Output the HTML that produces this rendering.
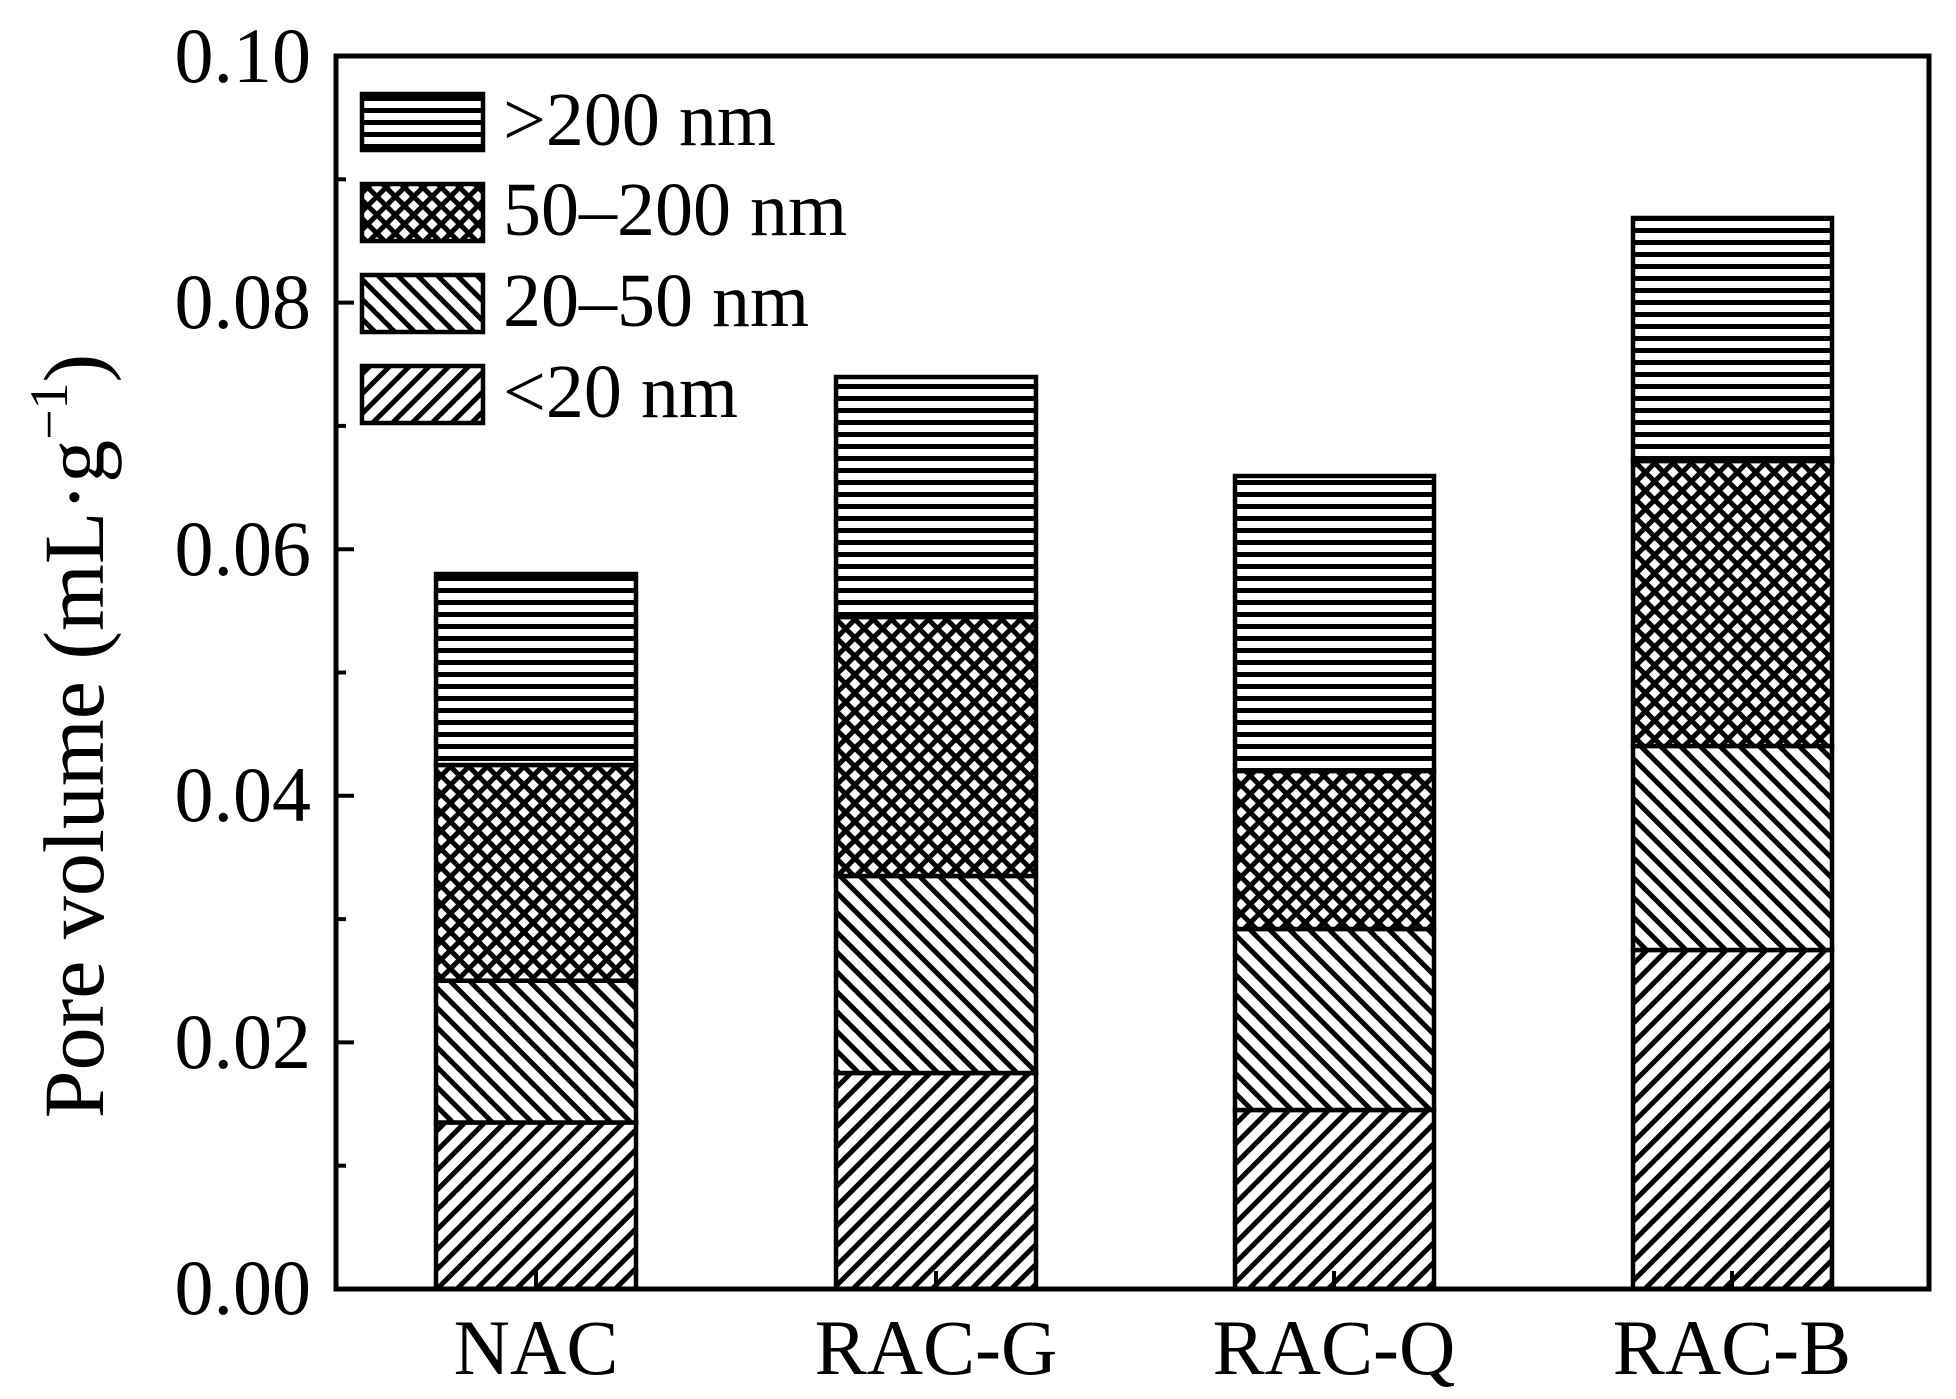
<!DOCTYPE html>
<html><head><meta charset="utf-8"><style>html,body{margin:0;padding:0;background:#fff}</style></head>
<body>
<svg width="1956" height="1394" viewBox="0 0 1956 1394" xmlns="http://www.w3.org/2000/svg" font-family="'Liberation Serif', serif">
<defs>
<pattern id="hz" patternUnits="userSpaceOnUse" width="20" height="12"><rect width="20" height="12" fill="#fff"/><rect y="0" width="20" height="5" fill="#000"/></pattern>
<pattern id="fw" patternUnits="userSpaceOnUse" width="14" height="14" patternTransform="rotate(45)"><rect width="14" height="14" fill="#fff"/><rect x="0" width="5" height="14" fill="#000"/></pattern>
<pattern id="bk" patternUnits="userSpaceOnUse" width="14" height="14" patternTransform="rotate(-45)"><rect width="14" height="14" fill="#fff"/><rect x="0" width="5" height="14" fill="#000"/></pattern>
<pattern id="cx" patternUnits="userSpaceOnUse" width="13" height="13" patternTransform="rotate(45)"><rect width="13" height="13" fill="#000"/><rect x="5" y="5" width="8" height="8" fill="#fff"/></pattern>
</defs>
<g stroke="#000" stroke-width="4.5">
<rect x="436" y="1122.5" width="200" height="166.5" fill="url(#fw)"/>
<rect x="436" y="980.7" width="200" height="141.8" fill="url(#bk)"/>
<rect x="436" y="765" width="200" height="215.7" fill="url(#cx)"/>
<rect x="436" y="574" width="200" height="191" fill="url(#hz)"/>
<rect x="836" y="1073" width="200" height="216" fill="url(#fw)"/>
<rect x="836" y="876" width="200" height="197" fill="url(#bk)"/>
<rect x="836" y="617" width="200" height="259" fill="url(#cx)"/>
<rect x="836" y="377" width="200" height="240" fill="url(#hz)"/>
<rect x="1235" y="1110" width="199" height="179" fill="url(#fw)"/>
<rect x="1235" y="929" width="199" height="181" fill="url(#bk)"/>
<rect x="1235" y="771" width="199" height="158" fill="url(#cx)"/>
<rect x="1235" y="476" width="199" height="295" fill="url(#hz)"/>
<rect x="1633" y="950" width="199" height="339" fill="url(#fw)"/>
<rect x="1633" y="746" width="199" height="204" fill="url(#bk)"/>
<rect x="1633" y="461" width="199" height="285" fill="url(#cx)"/>
<rect x="1633" y="218" width="199" height="243" fill="url(#hz)"/>
<rect x="362" y="94" width="121" height="56" fill="url(#hz)"/>
<rect x="362" y="184" width="121" height="57" fill="url(#cx)"/>
<rect x="362" y="275" width="121" height="57" fill="url(#bk)"/>
<rect x="362" y="366" width="121" height="57" fill="url(#fw)"/>
</g>
<g stroke="#000" stroke-width="5" fill="none">
<rect x="336" y="56" width="1593" height="1233"/>
</g>
<g stroke="#000" stroke-width="4">
<line x1="336" y1="1289" x2="354" y2="1289"/><line x1="336" y1="1042.4" x2="354" y2="1042.4"/><line x1="336" y1="795.8" x2="354" y2="795.8"/><line x1="336" y1="549.2" x2="354" y2="549.2"/><line x1="336" y1="302.6" x2="354" y2="302.6"/>
<line x1="336" y1="1165.7" x2="346" y2="1165.7"/><line x1="336" y1="919.1" x2="346" y2="919.1"/><line x1="336" y1="672.5" x2="346" y2="672.5"/><line x1="336" y1="425.9" x2="346" y2="425.9"/><line x1="336" y1="179.3" x2="346" y2="179.3"/>
<line x1="536" y1="1289" x2="536" y2="1271"/><line x1="936" y1="1289" x2="936" y2="1271"/><line x1="1334" y1="1289" x2="1334" y2="1271"/><line x1="1732" y1="1289" x2="1732" y2="1271"/>
</g>
<g font-size="78" text-anchor="end" fill="#000">
<text x="311" y="1314">0.00</text><text x="311" y="1068">0.02</text><text x="311" y="821">0.04</text><text x="311" y="575">0.06</text><text x="311" y="328">0.08</text><text x="311" y="82">0.10</text>
</g>
<g font-size="78" text-anchor="middle" fill="#000">
<text x="536" y="1374">NAC</text><text x="936" y="1374">RAC-G</text><text x="1334" y="1374">RAC-Q</text><text x="1732" y="1374">RAC-B</text>
</g>
<g font-size="76" fill="#000">
<text x="503" y="145">&gt;200 nm</text><text x="503" y="235">50–200 nm</text><text x="503" y="326">20–50 nm</text><text x="503" y="417">&lt;20 nm</text>
</g>
<text transform="translate(103,736) rotate(-90)" font-size="86" text-anchor="middle" fill="#000">Pore volume (mL·g<tspan dy="-36" font-size="54">−1</tspan><tspan dy="36">)</tspan></text>
</svg>
</body></html>
